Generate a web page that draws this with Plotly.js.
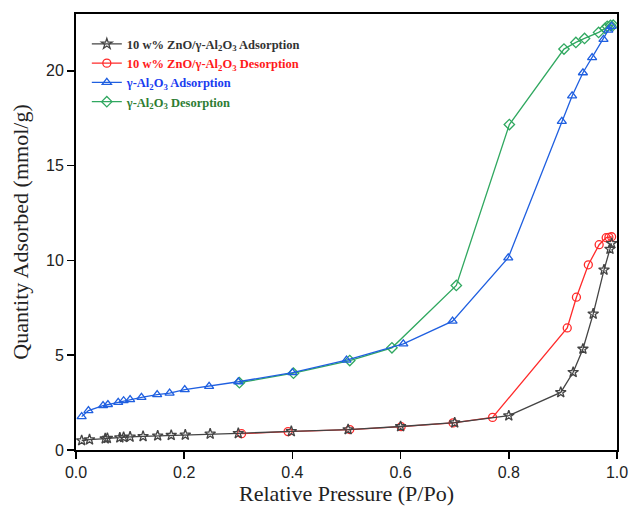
<!DOCTYPE html>
<html>
<head>
<meta charset="utf-8">
<script src="https://cdn.plot.ly/plotly-3.0.1.min.js"></script>
<style>html,body{margin:0;padding:0;background:#fff;}#chart{width:634px;height:524px;}</style>
</head>
<body>
<div id="chart"></div>
<script>
// 10 w% ZnO/γ-Al2O3 adsorption
const znoAdsP = [0.0105, 0.025, 0.054, 0.058, 0.081, 0.088, 0.100, 0.124, 0.151, 0.176, 0.202, 0.248, 0.300, 0.398, 0.503, 0.600, 0.700, 0.800, 0.896, 0.919, 0.937, 0.956, 0.976, 0.987, 0.990];
const znoAdsQ = [0.50, 0.55, 0.60, 0.62, 0.65, 0.67, 0.69, 0.72, 0.75, 0.78, 0.80, 0.85, 0.88, 0.98, 1.08, 1.24, 1.44, 1.81, 3.04, 4.10, 5.33, 7.18, 9.50, 10.60, 10.90];
// 10 w% ZnO/γ-Al2O3 desorption
const znoDesP = [0.990, 0.985, 0.980, 0.967, 0.947, 0.925, 0.908, 0.770, 0.697, 0.601, 0.506, 0.392, 0.306];
const znoDesQ = [11.25, 11.22, 11.20, 10.83, 9.77, 8.06, 6.44, 1.72, 1.43, 1.23, 1.08, 0.97, 0.86];
// γ-Al2O3 adsorption
const alAdsP = [0.0105, 0.023, 0.05, 0.059, 0.078, 0.088, 0.100, 0.121, 0.150, 0.173, 0.201, 0.246, 0.300, 0.400, 0.500, 0.605, 0.696, 0.799, 0.898, 0.917, 0.937, 0.954, 0.975, 0.984, 0.990];
const alAdsQ = [1.76, 2.08, 2.34, 2.40, 2.51, 2.60, 2.66, 2.78, 2.92, 3.00, 3.19, 3.36, 3.60, 4.08, 4.74, 5.60, 6.80, 10.14, 17.34, 18.68, 19.90, 20.70, 21.66, 22.15, 22.35];
// γ-Al2O3 desorption
const alDesP = [0.993, 0.988, 0.982, 0.978, 0.966, 0.940, 0.924, 0.902, 0.801, 0.703, 0.584, 0.506, 0.402, 0.302];
const alDesQ = [22.41, 22.40, 22.35, 22.24, 22.03, 21.71, 21.50, 21.15, 17.17, 8.68, 5.39, 4.72, 4.05, 3.55];

const xTicks = [0, 0.2, 0.4, 0.6, 0.8, 1.0];
const xTickText = ['0.0', '0.2', '0.4', '0.6', '0.8', '1.0'];
const yTicks = [0, 5, 10, 15, 20];

const cBlack = '#444444', cRed = '#ff2a2a', cBlue = '#1f5fe0', cGreen = '#30a860';
const serif = 'Liberation Serif';

function tr(x, y, color, sym, name) {
  return {
    x: x, y: y, type: 'scatter', mode: 'lines+markers', name: name,
    line: {color: color, width: 1.3},
    marker: {symbol: sym, size: 8, color: color, line: {color: color, width: 1.3}}
  };
}

const data = [
  tr(alDesP, alDesQ, cGreen, 'diamond-open', '<span style="color:#2e7d32"><b>γ-Al<sub>2</sub>O<sub>3</sub> Desorption</b></span>'),
  tr(alAdsP, alAdsQ, cBlue, 'triangle-up-open', '<span style="color:#1a3cf0"><b>γ-Al<sub>2</sub>O<sub>3</sub> Adsorption</b></span>'),
  tr(znoDesP, znoDesQ, cRed, 'circle-open', '<span style="color:#ff1a1a"><b>10 w% ZnO/γ-Al<sub>2</sub>O<sub>3</sub> Desorption</b></span>'),
  tr(znoAdsP, znoAdsQ, cBlack, 'star-open', '<span style="color:#333333"><b>10 w% ZnO/γ-Al<sub>2</sub>O<sub>3</sub> Adsorption</b></span>')
];

const layout = {
  width: 634, height: 524,
  margin: {l: 76, r: 17, t: 14, b: 74},
  paper_bgcolor: '#ffffff', plot_bgcolor: '#ffffff',
  showlegend: true,
  legend: {
    x: 0.02, y: 0.965, xanchor: 'left', yanchor: 'top',
    traceorder: 'reversed',
    font: {family: serif, size: 12.5, color: '#333'},
    bgcolor: 'rgba(0,0,0,0)', itemwidth: 30, tracegroupgap: 0
  },
  xaxis: {
    range: [0, 1], tickvals: xTicks, ticktext: xTickText,
    ticks: 'outside', ticklen: 7, tickwidth: 1.5, tickcolor: '#000',
    showline: true, linecolor: '#000', linewidth: 2, mirror: true,
    showgrid: false, zeroline: false,
    tickfont: {family: 'Liberation Sans', size: 16, color: '#222'},
    title: {text: 'Relative Pressure (P/Po)', standoff: 0,
      font: {family: serif, size: 22, color: '#222'}}
  },
  yaxis: {
    range: [0, 23], tickvals: yTicks,
    ticks: 'outside', ticklen: 7, tickwidth: 1.5, tickcolor: '#000',
    showline: true, linecolor: '#000', linewidth: 2, mirror: true,
    showgrid: false, zeroline: false,
    tickfont: {family: 'Liberation Sans', size: 16, color: '#222'},
    title: {text: 'Quantity Adsorbed (mmol/g)', standoff: 11,
      font: {family: serif, size: 22, color: '#222'}}
  }
};

Plotly.newPlot('chart', data, layout, {displayModeBar: false, staticPlot: true});
</script>
</body>
</html>
